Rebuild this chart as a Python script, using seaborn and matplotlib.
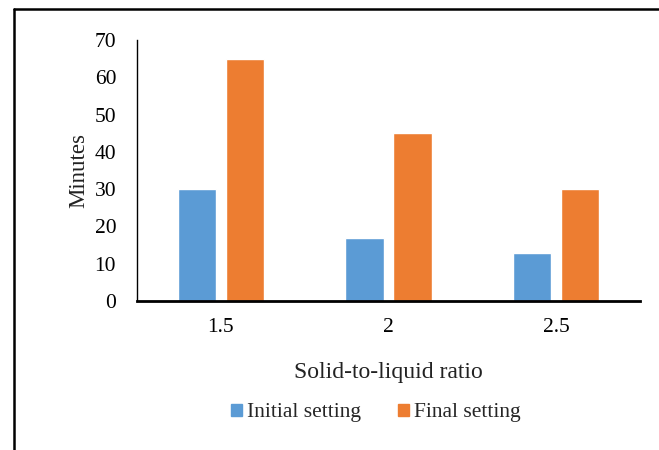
import matplotlib
matplotlib.use("Agg")
import matplotlib.pyplot as plt
import seaborn as sns
import pandas as pd
from matplotlib.lines import Line2D

ratios = ["1.5", "2", "2.5"]
initial_setting = [30, 17, 13]
final_setting = [65, 45, 30]
series_names = ["Initial setting", "Final setting"]
colors = ["#5B9BD5", "#ED7D31"]

df = pd.DataFrame({
    "ratio": ratios * 2,
    "minutes": initial_setting + final_setting,
    "series": [series_names[0]] * 3 + [series_names[1]] * 3,
})

sns.set_theme(style="white")
plt.rcParams["font.family"] = ["Liberation Serif", "DejaVu Serif"]

fig = plt.figure(figsize=(6.59, 4.5), dpi=100)
ax = fig.add_axes([137/659, 1-301/450, (640-137)/659, (301-40)/450])

sns.barplot(data=df, x="ratio", y="minutes", hue="series", order=ratios,
            hue_order=series_names, palette=colors, width=0.57, gap=0.2,
            saturation=1, ax=ax, legend=False)

ax.set_ylim(0, 70)
ax.set_yticks(range(0, 71, 10))
ax.set_xlim(-0.5, 2.5)
ax.tick_params(axis="both", length=0, labelsize=15.5, colors="black")
ax.tick_params(axis="y", pad=15)
ax.tick_params(axis="x", pad=12)
ax.set_ylabel("Minutes", fontsize=16.5, color="#222222", labelpad=4)
ax.set_xlabel("Solid-to-liquid ratio", fontsize=17, color="#222222", labelpad=18)
for s in ["top", "right"]:
    ax.spines[s].set_visible(False)
ax.spines["left"].set_color("black")
ax.spines["left"].set_linewidth(1.0)
ax.spines["bottom"].set_color("black")
ax.spines["bottom"].set_linewidth(2.0)

handles = [plt.Rectangle((0, 0), 1, 1, color=c) for c in colors]
fig.legend(handles, series_names, loc="center", bbox_to_anchor=(376/659, 1-413/450),
           ncol=2, frameon=False, fontsize=15.5, handlelength=0.5, handleheight=0.5,
           handletextpad=0.25, columnspacing=1.7)

# outer frame (top and left edges)
fig.add_artist(Line2D([14/659, 1.0], [1-9/450, 1-9/450], color="black", lw=1.8,
                      transform=fig.transFigure))
fig.add_artist(Line2D([14/659, 14/659], [0, 1-9/450], color="black", lw=1.8,
                      transform=fig.transFigure))

fig.savefig("out.png", dpi=100)
